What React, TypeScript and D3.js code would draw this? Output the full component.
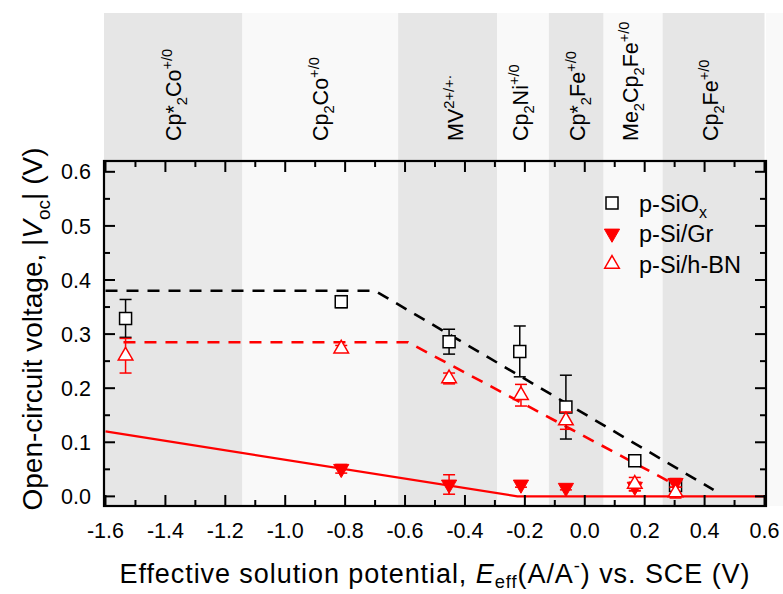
import React from 'react';
import * as d3 from 'd3';

// ---------- data ----------
const xTickValues = [-1.6, -1.4, -1.2, -1.0, -0.8, -0.6, -0.4, -0.2, 0.0, 0.2, 0.4, 0.6];
const xTickLabels = ['-1.6', '-1.4', '-1.2', '-1.0', '-0.8', '-0.6', '-0.4', '-0.2', '0.0', '0.2', '0.4', '0.6'];
const yTickValues = [0.0, 0.1, 0.2, 0.3, 0.4, 0.5, 0.6];
const yTickLabels = ['0.0', '0.1', '0.2', '0.3', '0.4', '0.5', '0.6'];

// redox couple bands (edges in V vs SCE)
const bandEdges = [-1.605, -1.143, -0.623, -0.293, -0.12, 0.063, 0.26, 0.6];
type Seg = { t: string; k?: 'sub' | 'sup'; it?: boolean };
const bandLabels: Seg[][] = [
  [{ t: 'Cp*' }, { t: '2', k: 'sub' }, { t: 'Co' }, { t: '+/0', k: 'sup' }],
  [{ t: 'Cp' }, { t: '2', k: 'sub' }, { t: 'Co' }, { t: '+/0', k: 'sup' }],
  [{ t: 'MV' }, { t: '2+/+·', k: 'sup' }],
  [{ t: 'Cp' }, { t: '2', k: 'sub' }, { t: 'Ni' }, { t: '+/0', k: 'sup' }],
  [{ t: 'Cp*' }, { t: '2', k: 'sub' }, { t: 'Fe' }, { t: '+/0', k: 'sup' }],
  [{ t: 'Me' }, { t: '2', k: 'sub' }, { t: 'Cp' }, { t: '2', k: 'sub' }, { t: 'Fe' }, { t: '+/0', k: 'sup' }],
  [{ t: 'Cp' }, { t: '2', k: 'sub' }, { t: 'Fe' }, { t: '+/0', k: 'sup' }],
];

// p-SiOx
const sioxX = [-1.533, -0.813, -0.453, -0.217, -0.063, 0.167, 0.303];
const sioxY = [0.329, 0.360, 0.286, 0.268, 0.165, 0.066, 0.020];
const sioxErr = [0.035, 0.011, 0.023, 0.047, 0.059, 0.008, 0.010];
// p-Si/Gr
const grX = [-0.813, -0.453, -0.213, -0.063, 0.167, 0.303];
const grY = [0.051, 0.022, 0.022, 0.016, 0.018, 0.025];
const grErr = [0.008, 0.018, 0.005, 0.004, 0.008, 0.008];
// p-Si/h-BN
const bnX = [-1.533, -0.813, -0.453, -0.213, -0.063, 0.167, 0.303];
const bnY = [0.260, 0.273, 0.218, 0.187, 0.140, 0.023, 0.007];
const bnErr = [0.032, 0.006, 0.010, 0.020, 0.016, 0.012, 0.010];

// fit / guide lines
const sioxFitX = [-1.6, -0.70, 0.43];
const sioxFitY = [0.380, 0.380, 0.012];
const bnFitX = [-1.54, -0.59, 0.30];
const bnFitY = [0.285, 0.285, 0.022];
const grFitX = [-1.6, -0.225, 0.6];
const grFitY = [0.120, 0.0, 0.0];

const seriesNames: Seg[][] = [
  [{ t: 'p-SiO' }, { t: 'x', k: 'sub' }],
  [{ t: 'p-Si/Gr' }],
  [{ t: 'p-Si/h-BN' }],
];

// ---------- styling ----------
const W = 783, H = 594;
const L = 104, R = 766, T = 161, B = 506;
const bandTop = 13;
const FONT = '"Liberation Sans", Arial, Helvetica, sans-serif';
const RED = '#ff0000';
const GREY = '#e6e6e6';
const LIGHT = '#f9f9f9';
const labelDx = [7.5, 8, 15, 5, 8.5, 4.5, 4];
const BAND_FS = 21.5;
const TICK_FS = 21.5;

function rich(segs: Seg[], fs: number, subShift = 0.28) {
  let shift = 0;
  return segs.map((s, i) => {
    const target = s.k === 'sub' ? subShift * fs : s.k === 'sup' ? -0.42 * fs : 0;
    const dy = target - shift;
    shift = target;
    return (
      <tspan key={i} dy={dy} fontSize={s.k ? fs * 0.68 : fs} fontStyle={s.it ? 'italic' : undefined}>
        {s.t}
      </tspan>
    );
  });
}

export default function App() {
  const x = d3.scaleLinear().domain([-1.605, 0.605]).range([L, R]);
  const y = d3.scaleLinear().domain([-0.0178, 0.62]).range([B, T]);

  const line = (xs: number[], ys: number[]) =>
    d3.line<number>().x((_, i) => x(xs[i])).y((_, i) => y(ys[i]))(xs.map((_, i) => i)) || '';

  const sq = d3.symbol().type(d3.symbolSquare).size(144)() || '';
  const triUp = d3.symbol().type(d3.symbolTriangle).size(92)() || '';
  const triDn = d3.symbol().type(d3.symbolTriangle).size(100)() || '';

  const xMinor = d3.range(-1.5, 0.6, 0.2);
  const yMinor = d3.range(0.05, 0.6, 0.1);

  const errBars = (xs: number[], ys: number[], es: number[], color: string) =>
    xs.map((xv, i) => {
      const cx = x(xv), y1 = y(ys[i] + es[i]), y2 = y(ys[i] - es[i]);
      return (
        <g key={i} stroke={color} strokeWidth={1.5}>
          <line x1={cx} x2={cx} y1={y1} y2={y2} />
          <line x1={cx - 6} x2={cx + 6} y1={y1} y2={y1} />
          <line x1={cx - 6} x2={cx + 6} y1={y2} y2={y2} />
        </g>
      );
    });

  return (
    <svg width={W} height={H} style={{ display: 'block', position: 'absolute', left: 0, top: 0 }} fontFamily={FONT}>
      <rect x={0} y={0} width={W} height={H} fill="#fff" />
      {/* bands */}
      <rect x={R} y={bandTop} width={W - R} height={B - bandTop} fill={LIGHT} />
      {bandEdges.slice(0, -1).map((e, i) => (
        <rect
          key={i}
          x={x(e)}
          y={bandTop}
          width={x(bandEdges[i + 1]) - x(e)}
          height={B - bandTop}
          fill={i % 2 === 0 ? GREY : LIGHT}
        />
      ))}
      {bandLabels.map((segs, i) => {
        const cx = x((bandEdges[i] + bandEdges[i + 1]) / 2) + labelDx[i];
        return (
          <text key={i} transform={`translate(${cx},141) rotate(-90)`} fontSize={BAND_FS} fill="#000">
            {rich(segs, BAND_FS)}
          </text>
        );
      })}

      {/* fit lines */}
      <path d={line(sioxFitX, sioxFitY)} fill="none" stroke="#000" strokeWidth={2.6} strokeDasharray="12,9" />
      <path d={line(bnFitX, bnFitY)} fill="none" stroke={RED} strokeWidth={2.6} strokeDasharray="12,9" />
      <path d={line(grFitX, grFitY)} fill="none" stroke={RED} strokeWidth={2.2} />

      {/* p-SiOx */}
      {errBars(sioxX, sioxY, sioxErr, '#000')}
      {sioxX.map((xv, i) => (
        <path key={i} d={sq} transform={`translate(${x(xv)},${y(sioxY[i])})`} fill="#fff" stroke="#000" strokeWidth={1.5} />
      ))}
      {/* p-Si/Gr */}
      {errBars(grX, grY, grErr, RED)}
      {grX.map((xv, i) => (
        <path key={i} d={triDn} transform={`translate(${x(xv)},${y(grY[i])}) rotate(180)`} fill={RED} stroke={RED} strokeWidth={1} />
      ))}
      {/* p-Si/h-BN */}
      {errBars(bnX, bnY, bnErr, RED)}
      {bnX.map((xv, i) => (
        <path key={i} d={triUp} transform={`translate(${x(xv)},${y(bnY[i])})`} fill="#fff" stroke={RED} strokeWidth={1.5} />
      ))}

      {/* axes frame */}
      <rect x={L} y={T} width={R - L} height={B - T} fill="none" stroke="#000" strokeWidth={2.2} />
      <g stroke="#000" strokeWidth={2}>
        {xTickValues.map((v, i) => (
          <g key={'xm' + i}>
            <line x1={x(v)} x2={x(v)} y1={B} y2={B - 11} />
            <line x1={x(v)} x2={x(v)} y1={T} y2={T + 11} />
          </g>
        ))}
        {xMinor.map((v, i) => (
          <g key={'xn' + i}>
            <line x1={x(v)} x2={x(v)} y1={B} y2={B - 6} />
            <line x1={x(v)} x2={x(v)} y1={T} y2={T + 6} />
          </g>
        ))}
        {yTickValues.map((v, i) => (
          <g key={'ym' + i}>
            <line x1={L} x2={L + 11} y1={y(v)} y2={y(v)} />
            <line x1={R} x2={R - 11} y1={y(v)} y2={y(v)} />
          </g>
        ))}
        {yMinor.map((v, i) => (
          <g key={'yn' + i}>
            <line x1={L} x2={L + 6} y1={y(v)} y2={y(v)} />
            <line x1={R} x2={R - 6} y1={y(v)} y2={y(v)} />
          </g>
        ))}
      </g>

      {/* tick labels */}
      {xTickValues.map((v, i) => (
        <text key={i} x={x(v)} y={537.5} fontSize={TICK_FS} textAnchor="middle" fill="#000">
          {xTickLabels[i]}
        </text>
      ))}
      {yTickValues.map((v, i) => (
        <text key={i} x={91} y={y(v) + 7.6} fontSize={TICK_FS} textAnchor="end" fill="#000">
          {yTickLabels[i]}
        </text>
      ))}

      {/* axis titles */}
      <text x={434.5} y={583} fontSize={27} textAnchor="middle" fill="#000" textLength={630} lengthAdjust="spacing">
        {rich(
          [
            { t: 'Effective solution potential, ' },
            { t: 'E', it: true },
            { t: 'eff', k: 'sub' },
            { t: '(A/A' },
            { t: '-', k: 'sup' },
            { t: ') vs. SCE (V)' },
          ],
          27,
          0.2
        )}
      </text>
      <text transform="translate(42,329) rotate(-90)" fontSize={28} textAnchor="middle" fill="#000">
        {rich(
          [
            { t: 'Open-circuit voltage, |' },
            { t: 'V', it: true },
            { t: 'oc', k: 'sub' },
            { t: '| (V)' },
          ],
          28
        )}
      </text>

      {/* legend */}
      {seriesNames.map((segs, i) => {
        const cy = 203 + i * 30.5;
        return (
          <g key={i}>
            {i === 0 && <path d={sq} transform={`translate(612,${cy})`} fill="#fff" stroke="#000" strokeWidth={1.5} />}
            {i === 1 && <path d={triDn} transform={`translate(612,${cy}) rotate(180)`} fill={RED} stroke={RED} />}
            {i === 2 && <path d={triUp} transform={`translate(612,${cy})`} fill="#fff" stroke={RED} strokeWidth={1.5} />}
            <text x={639} y={cy + 8.5} fontSize={23.5} fill="#000">
              {rich(segs, 23.5)}
            </text>
          </g>
        );
      })}
    </svg>
  );
}
